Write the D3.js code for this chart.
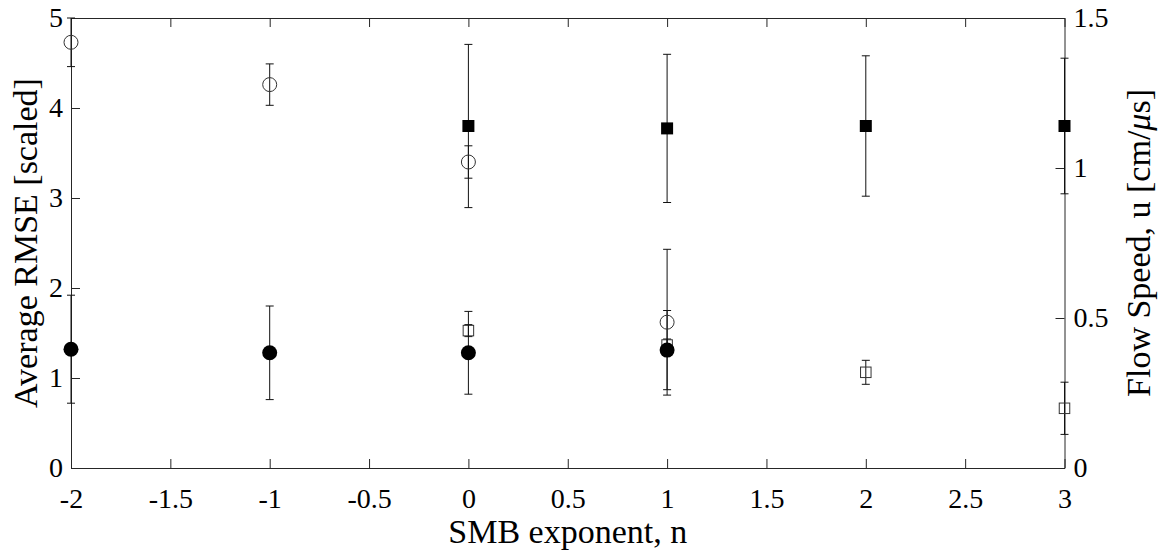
<!DOCTYPE html>
<html>
<head>
<meta charset="utf-8">
<script src="https://cdn.jsdelivr.net/npm/d3@7/dist/d3.min.js"></script>
<style>
  html, body { margin: 0; padding: 0; background: #fff; }
  svg { display: block; }
  svg text { font-family: "Liberation Serif", "Times New Roman", Times, serif !important; fill: #000; }
</style>
</head>
<body>
<svg id="chart" width="1162" height="556"></svg>
<script>
// SMB exponent values on the x axis
const exponents = [-2, -1, 0, 1, 2, 3];
const xTicks = [-2, -1.5, -1, -0.5, 0, 0.5, 1, 1.5, 2, 2.5, 3];
const leftTicks = [0, 1, 2, 3, 4, 5];
const rightTicks = [0, 0.5, 1, 1.5];

// Average RMSE (left axis) — open circles
const rmseOpenX = [-2, -1, 0, 1];
const rmseOpen = [4.73, 4.26, 3.40, 1.62];
const rmseOpenErr = [0.27, 0.23, 0.18, 0.81];

// Average RMSE (left axis) — filled circles
const rmseFilledX = [-2, -1, 0, 1];
const rmseFilled = [1.32, 1.28, 1.28, 1.31];
const rmseFilledErr = [0.60, 0.52, 0.46, 0.44];

// Flow speed (right axis) — filled squares
const speedFilledX = [0, 1, 2, 3];
const speedFilled = [1.14, 1.132, 1.14, 1.14];
const speedFilledErr = [0.272, 0.247, 0.234, 0.226];

// Flow speed (right axis) — open squares
const speedOpenX = [0, 1, 2, 3];
const speedOpen = [0.458, 0.41, 0.319, 0.199];
const speedOpenErr = [0.02, 0.02, 0.04, 0.087];

const serif = '"Liberation Serif", "Times New Roman", Times, serif';
const svg = d3.select("#chart");
const axisColor = "#262626";

const x = d3.scaleLinear().domain([-2, 3]).range([71, 1064.5]);
const yL = d3.scaleLinear().domain([0, 5]).range([468, 18]);
const yR = d3.scaleLinear().domain([0, 1.5]).range([468, 18]);

function styleAxis(g) {
  g.attr("font-family", serif).attr("font-size", 28);
  g.selectAll("path.domain").attr("stroke", axisColor).attr("stroke-width", 1);
  g.selectAll(".tick line").attr("stroke", axisColor).attr("stroke-width", 1);
  g.selectAll(".tick text").attr("fill", "#000");
}

// bottom axis
svg.append("g").attr("transform", `translate(0,${yL(0)})`)
  .call(d3.axisBottom(x).tickValues(xTicks).tickFormat(d => String(d)).tickSizeInner(-9).tickSizeOuter(0).tickPadding(20))
  .call(styleAxis);

// top axis (ticks only)
svg.append("g").attr("transform", `translate(0,${yL(5)})`)
  .call(d3.axisTop(x).tickValues(xTicks).tickFormat("").tickSizeInner(-9).tickSizeOuter(0))
  .call(styleAxis);

// left axis
svg.append("g").attr("transform", `translate(${x(-2)},0)`)
  .call(d3.axisLeft(yL).tickValues(leftTicks).tickFormat(d3.format("d")).tickSizeInner(-9).tickSizeOuter(0).tickPadding(8))
  .call(styleAxis);

// right axis
svg.append("g").attr("transform", `translate(${x(3)},0)`)
  .call(d3.axisRight(yR).tickValues(rightTicks).tickFormat(d => String(d)).tickSizeInner(-9).tickSizeOuter(0).tickPadding(9))
  .call(styleAxis);

// error bars
const cap = 4;
function errorBars(xs, vals, errs, y) {
  const g = svg.append("g").attr("stroke", "#111").attr("stroke-width", 1).attr("fill", "none");
  xs.forEach((xv, i) => {
    const cx = x(xv), lo = y(vals[i] - errs[i]), hi = y(vals[i] + errs[i]);
    g.append("line").attr("x1", cx).attr("x2", cx).attr("y1", lo).attr("y2", hi);
    g.append("line").attr("x1", cx - cap).attr("x2", cx + cap).attr("y1", lo).attr("y2", lo);
    g.append("line").attr("x1", cx - cap).attr("x2", cx + cap).attr("y1", hi).attr("y2", hi);
  });
}

// flow speed series (right axis)
errorBars(speedFilledX, speedFilled, speedFilledErr, yR);
errorBars(speedOpenX, speedOpen, speedOpenErr, yR);

svg.append("g").selectAll("rect").data(speedFilledX).join("rect")
  .attr("x", (d) => x(d) - 6).attr("y", (d, i) => yR(speedFilled[i]) - 6)
  .attr("width", 12).attr("height", 12).attr("fill", "#000");

svg.append("g").selectAll("rect").data(speedOpenX).join("rect")
  .attr("x", (d) => x(d) - 5.25).attr("y", (d, i) => yR(speedOpen[i]) - 5.25)
  .attr("width", 10.5).attr("height", 10.5).attr("fill", "none")
  .attr("stroke", "#333").attr("stroke-width", 1);

// RMSE series (left axis)
errorBars(rmseOpenX, rmseOpen, rmseOpenErr, yL);
errorBars(rmseFilledX, rmseFilled, rmseFilledErr, yL);

svg.append("g").selectAll("circle").data(rmseOpenX).join("circle")
  .attr("cx", d => x(d)).attr("cy", (d, i) => yL(rmseOpen[i])).attr("r", 7)
  .attr("fill", "none").attr("stroke", "#333").attr("stroke-width", 1);

svg.append("g").selectAll("circle").data(rmseFilledX).join("circle")
  .attr("cx", d => x(d)).attr("cy", (d, i) => yL(rmseFilled[i])).attr("r", 7.5)
  .attr("fill", "#000");

// axis titles
svg.append("text").attr("x", (x(-2) + x(3)) / 2).attr("y", 543)
  .attr("text-anchor", "middle").attr("font-family", serif).attr("font-size", 34)
  .text("SMB exponent, n");

svg.append("text").attr("transform", `translate(37,${(yL(0) + yL(5)) / 2}) rotate(-90)`)
  .attr("text-anchor", "middle").attr("font-family", serif).attr("font-size", 34)
  .text("Average RMSE [scaled]");

const rt = svg.append("text").attr("transform", `translate(1150,${(yR(0) + yR(1.5)) / 2}) rotate(-90)`)
  .attr("text-anchor", "middle").attr("font-family", serif).attr("font-size", 34);
rt.append("tspan").text("Flow Speed, u [cm/");
rt.append("tspan").attr("font-style", "italic").text("μ");
rt.append("tspan").text("s]");
</script>
</body>
</html>
